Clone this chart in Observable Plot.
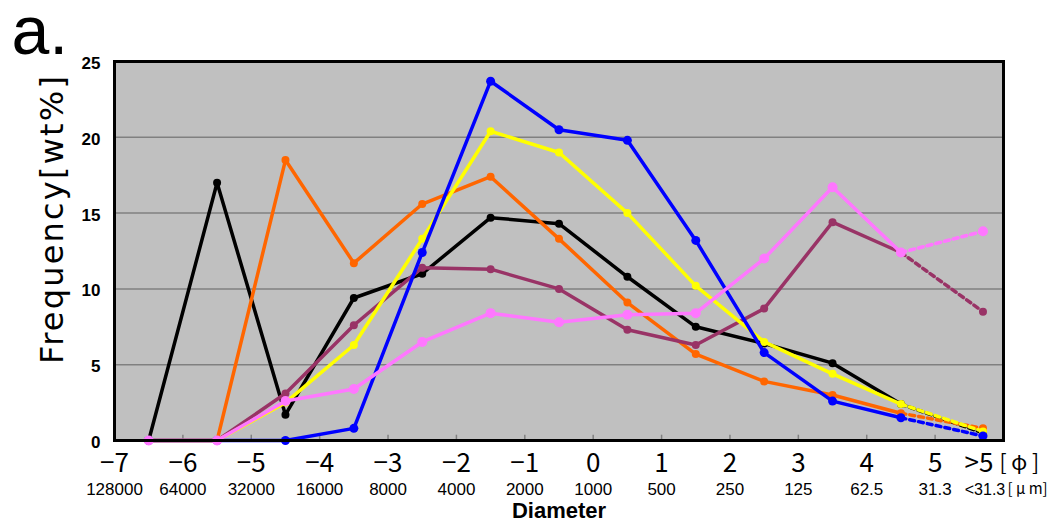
<!DOCTYPE html>
<html>
<head>
<meta charset="utf-8">
<script src="https://cdn.jsdelivr.net/npm/d3@7"></script>
<script src="https://cdn.jsdelivr.net/npm/@observablehq/plot@0.6"></script>
<style>
  html, body { margin: 0; padding: 0; background: white; }
</style>
</head>
<body>
<div id="chart"></div>
<script>
// Grain-size classes (phi midpoints; last entry is the ">5" class)
const phiMid = [-6.5, -5.5, -4.5, -3.5, -2.5, -1.5, -0.5, 0.5, 1.5, 2.5, 3.5, 4.5, 5.7];

// Series values (wt%)
const black  = [0, 17.0, 1.7, 9.4, 11.0, 14.7, 14.3, 10.8, 7.5, 6.4, 5.1, 2.4, 0.5];
const orange = [0, 0, 18.5, 11.7, 15.6, 17.4, 13.3, 9.1, 5.7, 3.9, 3.0, 1.8, 0.8];
const purple = [0, 0, 3.1, 7.6, 11.4, 11.3, 10.0, 7.3, 6.3, 8.7, 14.4, 12.4, 8.5];
const yellow = [0, 0, 2.5, 6.3, 13.3, 20.4, 19.0, 15.0, 10.2, 6.5, 4.4, 2.4, 0.6];
const blue   = [0, 0, 0, 0.8, 12.4, 23.7, 20.5, 19.8, 13.2, 5.8, 2.6, 1.5, 0.3];
const pink   = [0, 0, 2.6, 3.4, 6.5, 8.4, 7.8, 8.3, 8.4, 12.0, 16.7, 12.4, 13.8];

// Tick labels
const xTicks = [-7, -6, -5, -4, -3, -2, -1, 0, 1, 2, 3, 4, 5];
const phiLabels = ["−7", "−6", "−5", "−4", "−3", "−2", "−1", "0", "1", "2", "3", "4", "5"];
const umLabels = ["128000", "64000", "32000", "16000", "8000", "4000", "2000", "1000", "500", "250", "125", "62.5", "31.3"];
const lastPhiLabel = ">5";
const lastUmLabel = "<31.3";
const yTicks = [0, 5, 10, 15, 20, 25];

const series = [
  {name: "black", color: "#000000", values: black, r: 4},
  {name: "orange", color: "#ff6600", values: orange, r: 4},
  {name: "purple", color: "#993366", values: purple, r: 4},
  {name: "yellow", color: "#ffff00", values: yellow, r: 4},
  {name: "blue", color: "#0000ff", values: blue, r: 4.5},
  {name: "pink", color: "#ff77ff", values: pink, r: 5}
];

const n = phiMid.length;
const lineMarks = [];
for (const s of series) {
  const rows = s.values.map((v, i) => ({phi: phiMid[i], v}));
  lineMarks.push(Plot.line(rows.slice(0, n - 1), {x: "phi", y: "v", stroke: s.color, strokeWidth: 3.5}));
  lineMarks.push(Plot.line(rows.slice(n - 2), {x: "phi", y: "v", stroke: s.color, strokeWidth: 3.5, strokeDasharray: "5,4"}));
  lineMarks.push(Plot.dot(rows, {x: "phi", y: "v", r: s.r, fill: s.color, stroke: "none"}));
}

const tickFont = "'Noto Sans CJK JP', 'Liberation Sans', sans-serif";
const sans = "'Liberation Sans', Arial, sans-serif";

const chart = Plot.plot({
  width: 1053,
  height: 522,
  marginLeft: 114,
  marginRight: 50,
  marginTop: 61,
  marginBottom: 82,
  x: {domain: [-7, 6], axis: null},
  y: {domain: [0, 25], axis: null},
  style: {background: "white", fontFamily: sans, overflow: "visible"},
  marks: [
    Plot.frame({fill: "#c0c0c0", stroke: "none"}),
    Plot.ruleY(yTicks.slice(1, -1), {stroke: "#808080", strokeWidth: 1.5}),
    Plot.ruleX(xTicks.slice(1), {y1: 0, y2: 0.35, stroke: "#808080", strokeWidth: 1.5}),
    ...lineMarks,
    Plot.frame({stroke: "black", strokeWidth: 3}),
    // y tick labels
    Plot.text(yTicks, {x: -7, y: d => d, text: d => String(d), textAnchor: "end", dx: -14, dy: 2, fontSize: 17, fontWeight: "bold", fill: "black", fontFamily: sans}),
    // x phi labels
    Plot.text(xTicks, {x: d => d, frameAnchor: "bottom", text: (d, i) => phiLabels[i], dy: 23, lineAnchor: "middle", fontSize: 26, fill: "black", fontFamily: tickFont}),
    Plot.text([lastPhiLabel], {x: phiMid[n - 1], frameAnchor: "bottom", dy: 23, dx: -4, lineAnchor: "middle", fontSize: 26, fill: "black", fontFamily: tickFont}),
    Plot.text(["[ φ ]"], {x: 6, frameAnchor: "bottom", dy: 23, dx: -4, textAnchor: "start", lineAnchor: "middle", fontSize: 21, fill: "black", fontFamily: tickFont}),
    // x micrometre labels
    Plot.text(xTicks, {x: d => d, frameAnchor: "bottom", text: (d, i) => umLabels[i], dy: 49, lineAnchor: "middle", fontSize: 17, fill: "black", fontFamily: sans}),
    Plot.text([lastUmLabel], {x: phiMid[n - 1], frameAnchor: "bottom", dy: 49, dx: 2, lineAnchor: "middle", fontSize: 16, fill: "black", fontFamily: sans}),
    Plot.text(["[ μ m]"], {x: 6, frameAnchor: "bottom", dy: 49, dx: 4, textAnchor: "start", lineAnchor: "middle", fontSize: 15, fill: "black", fontFamily: tickFont}),
    // axis titles
    Plot.text(["Diameter"], {frameAnchor: "bottom", dy: 70, lineAnchor: "middle", fontSize: 22, fontWeight: "bold", fill: "black", fontFamily: sans}),
    Plot.text(["Frequency[wt%]"], {frameAnchor: "left", dx: -62, dy: -32, rotate: -90, textAnchor: "middle", lineAnchor: "middle", fontSize: 32, fill: "black", fontFamily: "'DejaVu Sans', sans-serif"}),
    // panel label
    Plot.text(["a."], {frameAnchor: "top-left", dx: -103, dy: -8, textAnchor: "start", lineAnchor: "bottom", fontSize: 68, fill: "black", fontFamily: sans})
  ]
});
d3.select(chart).selectAll("text").filter(function() { return this.textContent === "Frequency[wt%]"; }).attr("letter-spacing", "2.2");
document.getElementById("chart").appendChild(chart);
</script>
</body>
</html>
